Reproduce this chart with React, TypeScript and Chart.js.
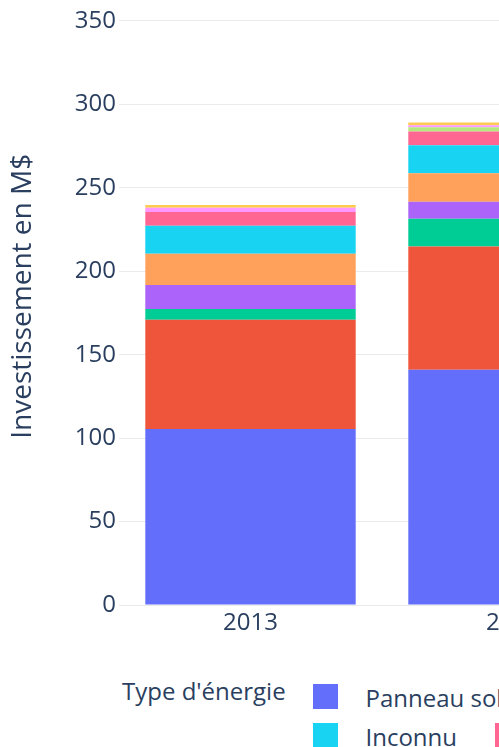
import React, { useEffect, useRef } from 'react';
import { Chart, registerables } from 'chart.js';

Chart.register(...registerables);

const years = ['2013', '2014'];
const seriesNames = [
  'Panneau solaire',
  'Éolien',
  'Hydroélectricité',
  'Géothermie',
  'Biomasse',
  'Inconnu',
  'Thermique',
  'Biogaz',
  'Aérothermie',
  'Autre',
];
const panneauSolaire = [105.5, 141.0];
const eolien = [65.5, 73.8];
const hydro = [6.4, 16.7];
const geothermie = [14.4, 10.2];
const biomasse = [18.7, 17.0];
const inconnu = [16.8, 16.8];
const thermique = [8.2, 8.2];
const biogaz = [0, 2.6];
const aerothermie = [2.6, 1.2];
const autre = [1.6, 1.7];
const seriesValues = [panneauSolaire, eolien, hydro, geothermie, biomasse, inconnu, thermique, biogaz, aerothermie, autre];
const seriesColors = ['#636efa', '#EF553B', '#00cc96', '#ab63fa', '#FFA15A', '#19d3f3', '#FF6692', '#B6E880', '#FF97FF', '#FECB52'];
const yAxisTitle = 'Investissement en M$';
const legendTitle = "Type d'énergie";
const yMax = 370;
const yStep = 50;

const FONT = "'Open Sans', sans-serif";
const TEXT = '#2a3f5f';

export default function App() {
  const ref = useRef<HTMLCanvasElement | null>(null);

  useEffect(() => {
    if (!ref.current) return;
    const chart = new Chart(ref.current, {
      type: 'bar',
      data: {
        labels: years,
        datasets: seriesNames.map((name, i) => ({
          label: name,
          data: seriesValues[i],
          backgroundColor: seriesColors[i],
          borderWidth: 0,
          categoryPercentage: 1,
          barPercentage: 0.8,
        })),
      },
      options: {
        animation: false,
        responsive: true,
        maintainAspectRatio: false,
        layout: { padding: { top: 27.6, right: 55, bottom: 0, left: 0 } },
        plugins: { legend: { display: false }, tooltip: { enabled: false } },
        scales: {
          x: {
            stacked: true,
            grid: { display: false, drawTicks: false },
            border: { display: false },
            ticks: { font: { family: FONT, size: 24 }, color: TEXT, padding: 3.6 },
            afterFit: (s: any) => {
              s.height = 55;
            },
          },
          y: {
            stacked: true,
            min: 0,
            max: yMax,
            ticks: {
              stepSize: yStep,
              includeBounds: false,
              font: { family: FONT, size: 24 },
              color: TEXT,
              padding: 3,
            },
            grid: { color: '#eaeaea', lineWidth: 1, drawTicks: false },
            border: { display: false },
            title: {
              display: true,
              text: yAxisTitle,
              font: { family: FONT, size: 28 },
              color: TEXT,
              padding: { top: 6, bottom: 0 },
            },
            afterFit: (s: any) => {
              s.width = 119;
            },
          },
        },
      } as any,
    });
    return () => chart.destroy();
  }, []);

  const rows = [seriesNames.slice(0, 5), seriesNames.slice(5)];
  const rowTops = [684, 723];

  return (
    <div
      style={{
        position: 'fixed',
        left: 0,
        top: 0,
        width: 499,
        height: 747,
        overflow: 'hidden',
        background: '#fff',
        fontFamily: FONT,
        color: TEXT,
      }}
    >
      <div style={{ position: 'absolute', left: 0, top: -40, width: 700, height: 700 }}>
        <canvas ref={ref} />
      </div>
      <div
        style={{
          position: 'absolute',
          left: 122,
          top: 679,
          fontSize: 24,
          lineHeight: '24px',
          whiteSpace: 'nowrap',
        }}
      >
        {legendTitle}
      </div>
      {rows.map((row, r) => (
        <div
          key={r}
          style={{
            position: 'absolute',
            left: 285.5,
            top: rowTops[r],
            display: 'flex',
            alignItems: 'flex-start',
            whiteSpace: 'nowrap',
          }}
        >
          {row.map((name) => {
            const idx = seriesNames.indexOf(name);
            return (
              <div key={name} style={{ display: 'flex', alignItems: 'flex-start' }}>
                <div
                  style={{
                    marginLeft: 27.5,
                    width: 25,
                    height: 25,
                    background: seriesColors[idx],
                    flex: 'none',
                  }}
                />
                <div
                  style={{
                    marginLeft: 27.5,
                    marginRight: 10,
                    marginTop: 1.7,
                    fontSize: 24,
                    lineHeight: '24px',
                  }}
                >
                  {name}
                </div>
              </div>
            );
          })}
        </div>
      ))}
    </div>
  );
}
